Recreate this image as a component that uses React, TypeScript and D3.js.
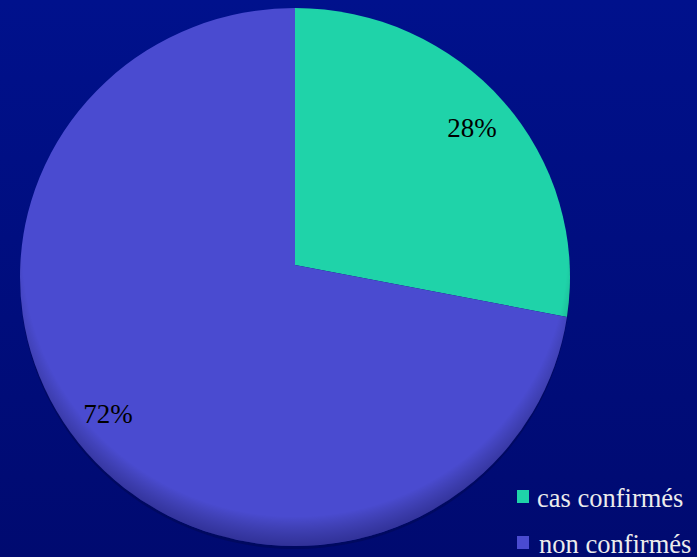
import React from "react";
import * as d3 from "d3";

const categories = ["cas confirmés", "non confirmés"];
const values = [28, 72];
const labels = ["28%", "72%"];
const colors = ["#1fd3a9", "#4a4bd0"];

const W = 697;
const H = 557;

export default function App() {
  const vx = 295, vy = 265; // vertex of slices
  const ecx = 295, ecy = 277, rx = 275, ry = 269; // ellipse outline

  const pie = d3.pie<number>().sort(null).value((d) => d)(values);

  const hit = (a: number) => {
    const dx = Math.sin(a), dy = -Math.cos(a);
    const ox = vx - ecx, oy = vy - ecy;
    const A = (dx * dx) / (rx * rx) + (dy * dy) / (ry * ry);
    const B = 2 * ((ox * dx) / (rx * rx) + (oy * dy) / (ry * ry));
    const C = (ox * ox) / (rx * rx) + (oy * oy) / (ry * ry) - 1;
    const t = (-B + Math.sqrt(B * B - 4 * A * C)) / (2 * A);
    return [vx + t * dx, vy + t * dy];
  };

  const slicePath = (s: d3.PieArcDatum<number>) => {
    const p0 = hit(s.startAngle);
    const p1 = hit(s.endAngle);
    const large = s.endAngle - s.startAngle > Math.PI ? 1 : 0;
    return `M${vx},${vy}L${p0[0]},${p0[1]}A${rx},${ry} 0 ${large} 1 ${p1[0]},${p1[1]}Z`;
  };

  const labelPos = [
    [472, 137],
    [108, 423],
  ];

  return (
    <div style={{ position: "fixed", left: 0, top: 0, width: W, height: H }}>
      <svg width={W} height={H} style={{ display: "block" }}>
        <defs>
          <linearGradient id="bg" x1="0" y1="0" x2="0" y2="1">
            <stop offset="0" stopColor="#00118c" />
            <stop offset="1" stopColor="#000a70" />
          </linearGradient>
          <radialGradient id="shade" cx="0.5" cy="0.45" r="0.55">
            <stop offset="0.9" stopColor="#000" stopOpacity="0" />
            <stop offset="1" stopColor="#000030" stopOpacity="0.35" />
          </radialGradient>
        </defs>
        <rect width={W} height={H} fill="url(#bg)" />
        <ellipse cx={ecx} cy={ecy + 3} rx={rx} ry={ry} fill="#000850" opacity={0.5} />
        {pie.map((s, i) => (
          <path key={categories[i]} d={slicePath(s)} fill={colors[i]} />
        ))}
        <ellipse cx={ecx} cy={ecy} rx={rx} ry={ry} fill="url(#shade)" />
        {pie.map((s, i) => (
          <text
            key={"l" + i}
            x={labelPos[i][0]}
            y={labelPos[i][1]}
            textAnchor="middle"
            fontFamily="'Liberation Serif', 'Times New Roman', serif"
            fontSize={27}
            fill="#000"
          >
            {labels[i]}
          </text>
        ))}
        {categories.map((c, i) => (
          <g key={"lg" + i} transform={`translate(517,${490 + i * 46})`}>
            <rect width={12} height={13} fill={colors[i]} />
            <text
              x={i === 0 ? 20 : 22}
              y={17}
              fontFamily="'Liberation Serif', 'Times New Roman', serif"
              fontSize={26.5}
              fill="#ececec"
            >
              {c}
            </text>
          </g>
        ))}
      </svg>
    </div>
  );
}
